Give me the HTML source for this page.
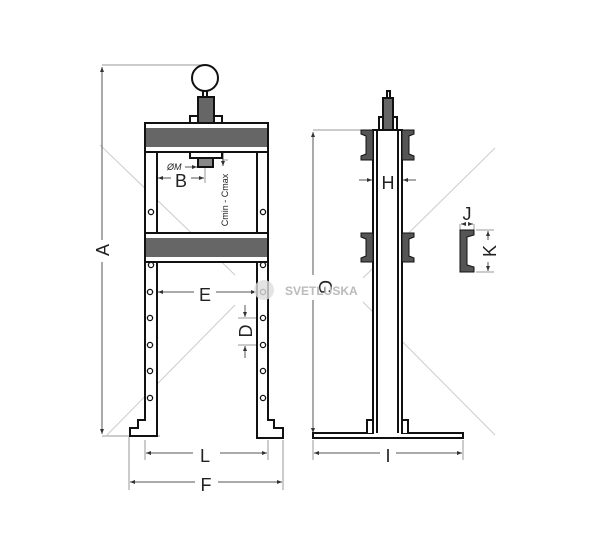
<!DOCTYPE html>
<html><head><style>html,body{margin:0;padding:0;background:#fff}svg{display:block}</style></head>
<body>
<svg width="600" height="550" viewBox="0 0 600 550" xmlns="http://www.w3.org/2000/svg" font-family="Liberation Sans, sans-serif">
<defs>
<marker id="ar" markerWidth="6" markerHeight="6" refX="5" refY="3" orient="auto"><path d="M0,1 L5,3 L0,5 Z" fill="#333"/></marker>
</defs>
<g stroke="#ccc" stroke-width="1">
<line x1="100" y1="145" x2="235" y2="275"/>
<line x1="235" y1="305" x2="107" y2="435"/>
<line x1="495" y1="148" x2="363" y2="278"/>
<line x1="363" y1="302" x2="495" y2="435"/>
</g>
<g stroke="#999" stroke-width="1" fill="none">
<line x1="102" y1="65" x2="205" y2="65"/>
<line x1="102" y1="436" x2="160" y2="436"/>
<line x1="129" y1="437" x2="129" y2="490"/>
<line x1="145" y1="440" x2="145" y2="460"/>
<line x1="268" y1="440" x2="268" y2="460"/>
<line x1="283" y1="440" x2="283" y2="490"/>
<line x1="313" y1="130" x2="373" y2="130"/>
<line x1="313" y1="440" x2="313" y2="460"/>
<line x1="463" y1="440" x2="463" y2="460"/>
<line x1="238" y1="318" x2="260" y2="318"/>
<line x1="238" y1="345" x2="260" y2="345"/>
<line x1="205" y1="158" x2="205" y2="183"/>
<line x1="222" y1="160" x2="228" y2="160"/>
<line x1="460" y1="224" x2="460" y2="230"/>
<line x1="474" y1="224" x2="474" y2="230"/>
<line x1="476" y1="230" x2="494" y2="230"/>
<line x1="476" y1="272" x2="494" y2="272"/>
</g>
<g stroke="#555" stroke-width="1" fill="none" marker-end="url(#ar)">
<line x1="102" y1="240" x2="102" y2="67"/>
<line x1="102" y1="262" x2="102" y2="434"/>
<line x1="171" y1="178" x2="158" y2="178"/>
<line x1="191" y1="178" x2="204" y2="178"/>
<line x1="185" y1="167" x2="197" y2="167"/>
<line x1="223" y1="152" x2="223" y2="166"/>
<line x1="194" y1="292" x2="158" y2="292"/>
<line x1="216" y1="292" x2="256" y2="292"/>
<line x1="245" y1="305" x2="245" y2="317"/>
<line x1="245" y1="358" x2="245" y2="346"/>
<line x1="193" y1="453" x2="146" y2="453"/>
<line x1="220" y1="453" x2="267" y2="453"/>
<line x1="195" y1="482" x2="130" y2="482"/>
<line x1="218" y1="482" x2="282" y2="482"/>
<line x1="313" y1="275" x2="313" y2="132"/>
<line x1="313" y1="300" x2="313" y2="433"/>
<line x1="380" y1="453" x2="314" y2="453"/>
<line x1="396" y1="453" x2="462" y2="453"/>
<line x1="359" y1="180" x2="372" y2="180"/>
<line x1="416" y1="180" x2="403" y2="180"/>
<line x1="466" y1="224" x2="461" y2="224"/>
<line x1="468" y1="224" x2="473" y2="224"/>
<line x1="488" y1="240" x2="488" y2="231"/>
<line x1="488" y1="262" x2="488" y2="271"/>
</g>
<g stroke="#111" stroke-width="2" fill="#fff">
<circle cx="205" cy="78" r="13"/>
<rect x="203" y="91" width="4" height="6"/>
<rect x="190" y="116" width="32" height="8"/>
<rect x="198" y="97" width="16" height="27" fill="#666"/>
<rect x="145" y="152" width="12" height="81"/>
<rect x="257" y="152" width="11" height="81"/>
<path d="M145,262 H157 V436 H130 V428 H138 V420 H145 Z"/>
<path d="M257,262 H268 V420 H274 V428 H283 V438 H257 Z"/>
<rect x="145" y="123" width="123" height="29" fill="#fff"/>
<rect x="145" y="233" width="123" height="29" fill="#fff"/>
<rect x="190" y="152" width="32" height="6"/>
<rect x="198" y="158" width="15" height="9" fill="#888"/>
</g>
<rect x="146" y="128" width="121" height="19" fill="#666"/>
<rect x="146" y="238" width="121" height="19" fill="#666"/>
<g stroke="#111" stroke-width="1.3" fill="#fff">
<circle cx="151" cy="212" r="2.6"/><circle cx="263" cy="212" r="2.6"/>
<circle cx="151" cy="265" r="2.6"/><circle cx="263" cy="265" r="2.6"/>
<circle cx="150" cy="292" r="2.6"/><circle cx="263" cy="292" r="2.6"/>
<circle cx="150" cy="318" r="2.6"/><circle cx="263" cy="318" r="2.6"/>
<circle cx="150" cy="345" r="2.6"/><circle cx="263" cy="345" r="2.6"/>
<circle cx="150" cy="371" r="2.6"/><circle cx="263" cy="371" r="2.6"/>
<circle cx="150" cy="398" r="2.6"/><circle cx="263" cy="398" r="2.6"/>
</g>
<g stroke="#111" stroke-width="2" fill="#fff">
<rect x="387" y="91" width="3" height="7"/>
<rect x="379" y="117" width="18" height="13"/>
<rect x="383" y="98" width="10" height="32" fill="#666"/>
<path d="M313,433 H373 V130 H402 V433 H463 V438 H313 Z"/>
<line x1="377" y1="130" x2="377" y2="433"/>
<line x1="398" y1="130" x2="398" y2="433"/>
<path d="M373,433 V420 H367 V433" />
<path d="M402,433 V420 H408 V433" />
</g>
<g fill="#555" stroke="#111" stroke-width="1">
<path d="M361,130 H373 V160 H361 V156 L366,154 V136 L361,134 Z"/>
<path d="M402,130 H414 V134 L409,136 V154 L414,156 V160 H402 Z"/>
<path d="M361,233 H373 V262 H361 V258 L366,256 V239 L361,237 Z"/>
<path d="M402,233 H414 V237 L409,239 V256 L414,258 V262 H402 Z"/>
<path d="M460,230 H474 V235 L467,237 V265 L474,267 V272 H460 Z"/>
</g>
<g fill="#222" font-size="18">
<text transform="translate(109,250) rotate(-90)" text-anchor="middle">A</text>
<text x="181" y="187" text-anchor="middle">B</text>
<text x="205" y="301" text-anchor="middle">E</text>
<text x="205" y="462" text-anchor="middle">L</text>
<text x="206" y="491" text-anchor="middle">F</text>
<text x="388" y="462" text-anchor="middle">I</text>
<text x="388" y="189" text-anchor="middle">H</text>
<text x="467" y="220" text-anchor="middle">J</text>
<text transform="translate(252,331) rotate(-90)" text-anchor="middle">D</text>
<text transform="translate(319,287) rotate(90)" text-anchor="middle">G</text>
<text transform="translate(496,251) rotate(-90)" text-anchor="middle">K</text>
<text transform="translate(228,200) rotate(-90)" text-anchor="middle" font-size="9">Cmin - Cmax</text>
<text x="167" y="170" font-size="9" font-style="italic">ØM</text>
</g>
<circle cx="264" cy="290" r="10" fill="#ddd" opacity="0.8"/>
<text x="285" y="295" font-size="12" font-weight="bold" fill="#bbb">SVETLUSKA</text>
</svg>
</body></html>
